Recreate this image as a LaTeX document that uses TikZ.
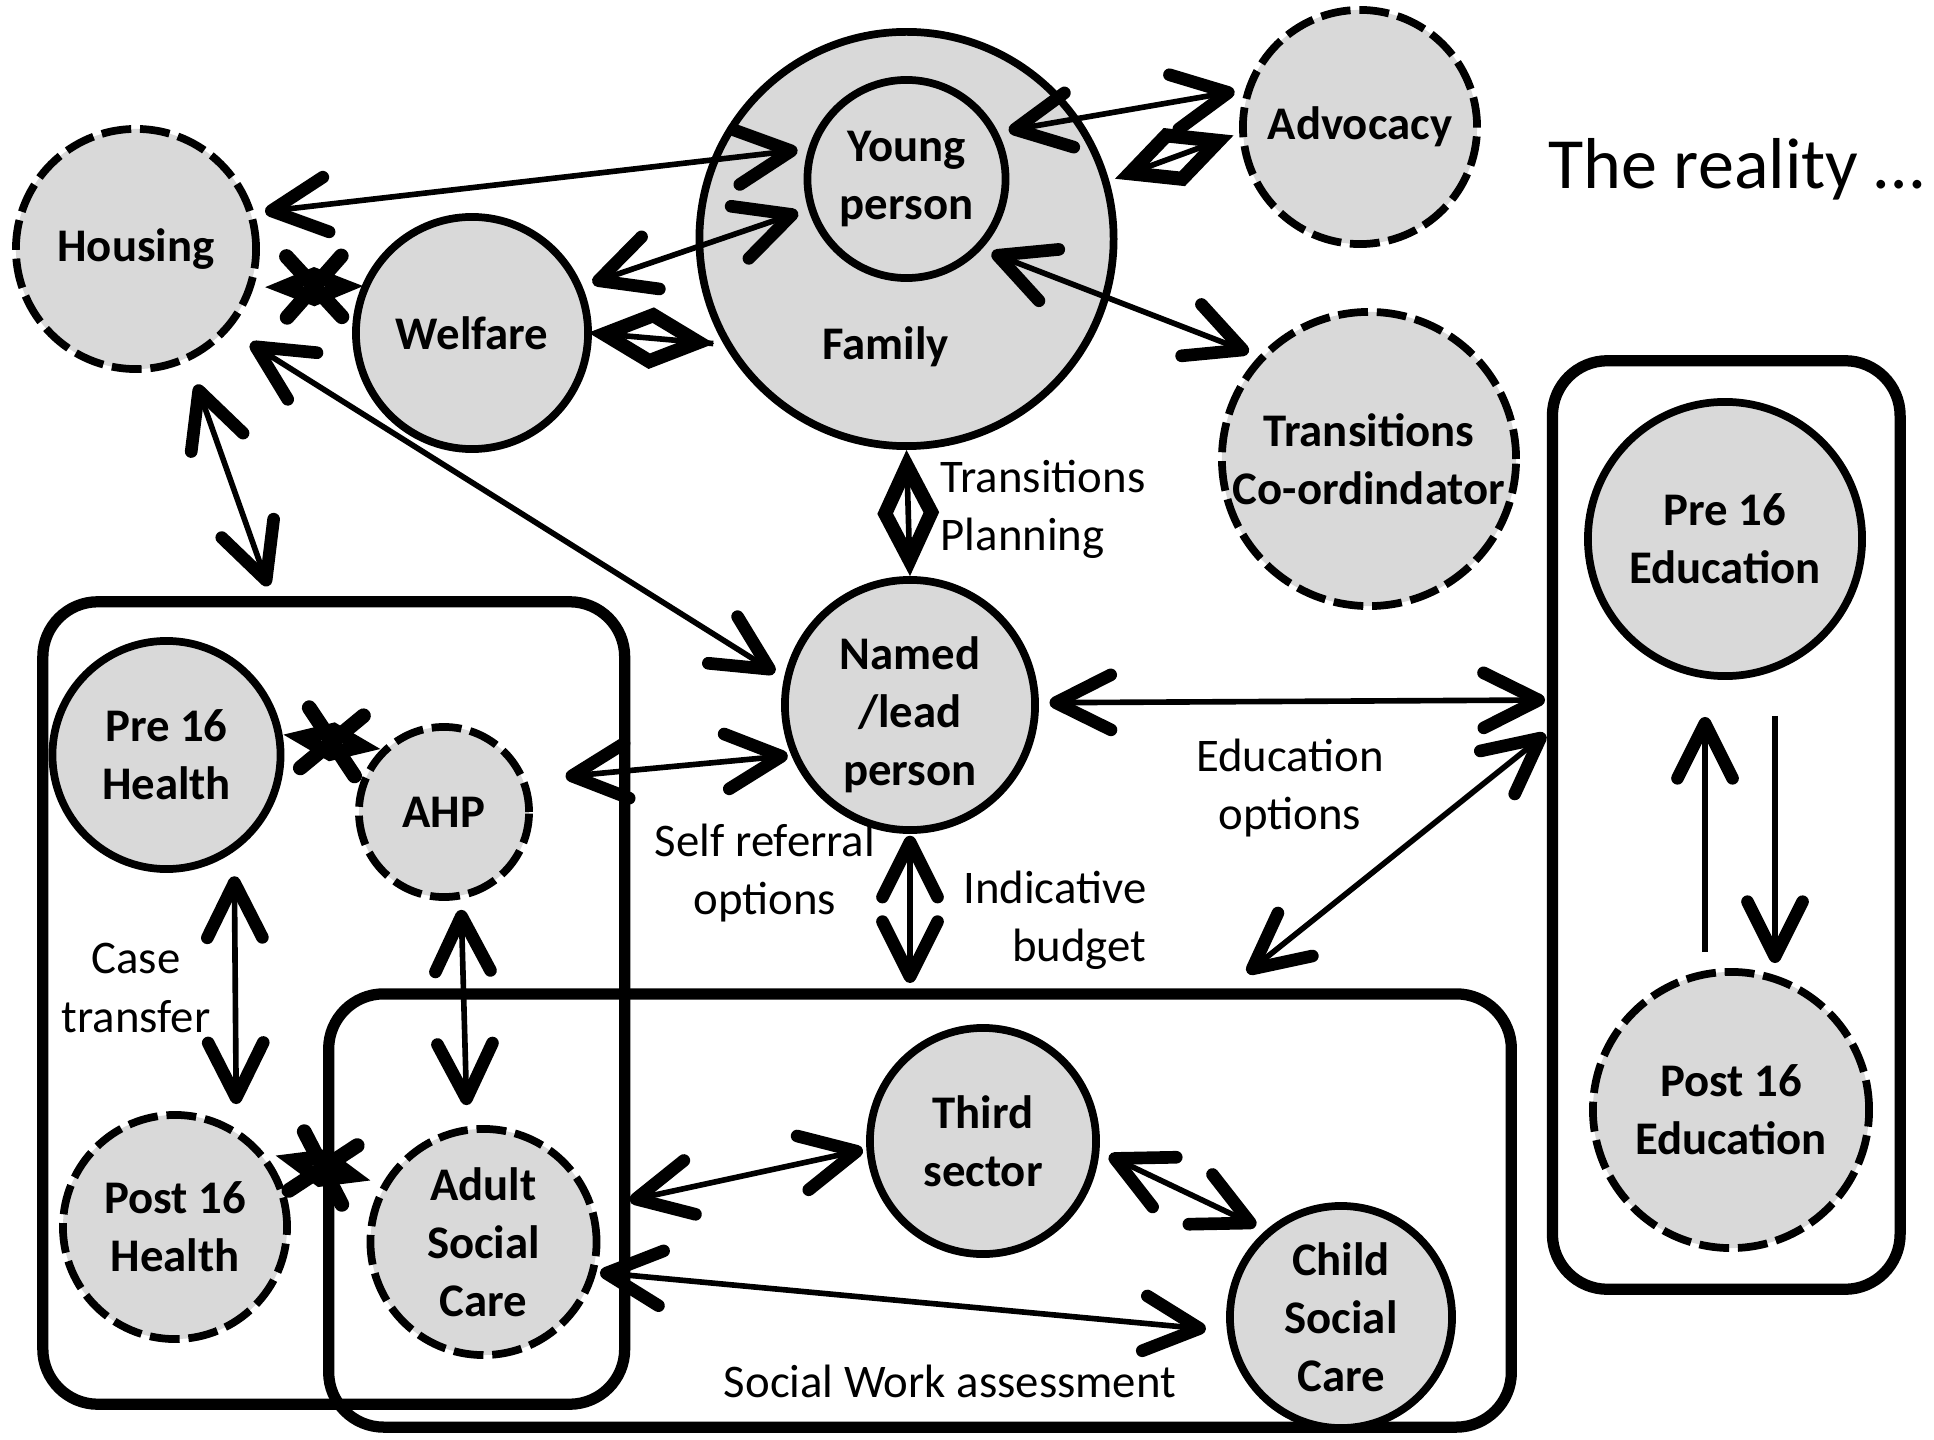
\documentclass[tikz,border=0pt]{standalone}
\usepackage{fontspec}
\setmainfont{Carlito}
\usetikzlibrary{arrows.meta,shapes.geometric,shapes.misc}
\definecolor{cfill}{RGB}{217,217,217}

\begin{document}
\begin{tikzpicture}[x=0.01cm,y=0.01cm,
    >={Straight Barb[length=5.5mm,width=5.5mm,line width=3.6pt,round]},
    circ/.style={circle,draw,line width=2.2pt,fill=cfill,align=center,inner sep=0pt,
      font=\fontsize{13.3}{16.5}\selectfont\bfseries},
    dcirc/.style={circ,dash pattern=on 8.5pt off 2.5pt},
    grp/.style={draw,line width=3.2pt,rounded corners=0.55cm,inner sep=0pt},
    lnk/.style={line width=1.6pt,shorten <=3pt,shorten >=3pt},
    txt/.style={align=center,inner sep=0pt,font=\fontsize{13.3}{16.5}\selectfont},
    btxt/.style={txt,font=\fontsize{13.3}{16.5}\selectfont\bfseries},
    agg/.style={diamond,draw,line width=4pt,minimum width=1.0cm,minimum height=0.52cm,inner sep=0pt},
    brkd/.style={diamond,draw,line width=4pt,minimum width=0.66cm,minimum height=0.3cm,inner sep=0pt},
    brkx/.style={cross out,draw,line width=4.2pt,line cap=round,minimum width=0.4cm,minimum height=0.46cm,inner sep=0pt}]
  \useasboundingbox (0,0) rectangle (1934,-1440);

  % groups
  \node[grp,minimum width=5.815cm,minimum height=8.02cm] (healthbox) at (333.75,-1003) {};
  \node[grp,minimum width=11.82cm,minimum height=4.33cm] (carebox) at (920,-1210.5) {};
  \node[grp,minimum width=3.475cm,minimum height=9.28cm] (edubox) at (1726.25,-825) {};

  % services
  \node[circ,minimum size=4.14cm] (family) at (906.5,-239) {};
  \node[btxt] (familylbl) at (885.6,-346.6) {Family};
  \node[circ,minimum size=1.98cm] (young) at (906.5,-179) {Young\\person};
  \node[dcirc,minimum size=2.40cm] (housing) at (136,-249) {Housing};
  \node[circ,minimum size=2.32cm] (welfare) at (472,-333) {Welfare};
  \node[dcirc,minimum size=2.34cm] (advocacy) at (1360,-127) {Advocacy};
  \node[dcirc,minimum size=2.94cm] (coord) at (1369,-459) {Transitions\\Co-ordindator};
  \node[circ,minimum size=2.50cm] (named) at (910,-705) {};
  \node[btxt] (namedlbl) at (910,-715) {Named\\/lead\\person};
  \node[circ,minimum size=2.28cm] (prehealth) at (166.5,-755) {Pre 16\\Health};
  \node[dcirc,minimum size=1.70cm] (ahp) at (444,-812) {AHP};
  \node[dcirc,minimum size=2.24cm] (posthealth) at (175,-1227) {Post 16\\Health};
  \node[dcirc,minimum size=2.26cm] (adult) at (483.5,-1242) {Adult\\Social\\Care};
  \node[circ,minimum size=2.26cm] (third) at (983,-1141) {Third\\sector};
  \node[circ,minimum size=2.22cm] (child) at (1341,-1317) {Child\\Social\\Care};
  \node[circ,minimum size=2.74cm] (preedu) at (1725,-539) {Pre 16\\Education};
  \node[dcirc,minimum size=2.76cm] (postedu) at (1731,-1110) {Post 16\\Education};

  % labels
  \node[txt,font=\fontsize{20.5}{24}\selectfont,anchor=west] (title) at (1548,-169) {The reality …};
  \node[txt,align=left,anchor=west] (tplan) at (940,-509) {Transitions\\Planning};
  \node[txt] (eduopt) at (1290,-788) {Education\\options};
  \node[txt] (selfref) at (765,-873) {Self referral\\options};
  \node[txt,align=right,anchor=east] (budget) at (1147,-920) {Indicative\\budget};
  \node[txt] (casetr) at (136,-988) {Case\\transfer};
  \node[txt] (swa) at (950,-1381) {Social Work assessment};

  % links
  \draw[lnk,<->] (housing.17) -- (young.163.5);
  \draw[lnk,<->] (welfare.23) -- (young.197);
  \draw[lnk] (welfare.0) -- (family.210) node[agg,pos=0.45,sloped] (aggwf) {};
  \draw[lnk,shorten <=4pt,shorten >=4pt] (family.16) -- (advocacy.183) node[agg,midway,sloped] (aggfa) {};
  \draw[lnk,<->] (young.27) -- (advocacy.162);
  \draw[lnk,<->] (young.-43) -- (coord.137);
  \draw[lnk] (family.south) -- (named.north) node[agg,midway,sloped] (aggfn) {};
  \draw[lnk,<->,shorten <=7pt] (housing.-41.5) -- (named.168);
  \draw[lnk,<->,shorten <=7pt] (housing.-65.5) -- ([shift={(-62,0)}]healthbox.north);
  \draw[lnk,<->,shorten <=7pt,shorten >=7pt] (prehealth.-55) -- (posthealth.58);
  \draw[lnk,<->,shorten >=6pt] (ahp.-79.5) -- (adult.98.7);
  \draw[lnk,<->,shorten <=11pt,shorten >=1pt] (ahp.21) -- (named.203);
  \draw[lnk,<->,shorten >=0.5pt] (named.1.5) -- ([shift={(0,125)}]edubox.west);
  \draw[lnk,<->,shorten <=0.5pt,shorten >=7pt] ([shift={(0,92)}]edubox.west) -- ([shift={(308,0)}]carebox.north);
  \draw[lnk,<->,shorten <=0.5pt,shorten >=1.5pt] (named.south) -- (named.south |- carebox.north);
  \draw[lnk,<->,shorten <=10pt,shorten >=1pt] (adult.17.5) -- (third.184.3);
  \draw[lnk,<->,shorten <=1pt,shorten >=6pt] (adult.-15.3) -- (child.187.4);
  \draw[lnk,<->] (third.-5.5) -- (child.131.8);
  \draw[lnk,->,shorten <=0pt,shorten >=0pt] ([shift={(-26,16)}]postedu.north) -- ([shift={(-20,-37)}]preedu.south);
  \draw[lnk,->,shorten <=0pt,shorten >=0pt] ([shift={(50,-36)}]preedu.south) -- ([shift={(44,5)}]postedu.north);

  % broken links
  \path (housing.-18) -- (welfare.157) node[brkd,pos=0.56,sloped] (bhw) {} node[brkx,pos=0.56,sloped] (xhw) {};
  \path (prehealth.10) -- (ahp.135) node[brkd,midway,sloped] (bpa) {} node[brkx,midway,sloped] (xpa) {};
  \path (posthealth.40) -- (adult.150) node[brkd,midway,sloped] (bpc) {} node[brkx,midway,sloped] (xpc) {};
\end{tikzpicture}
\end{document}
